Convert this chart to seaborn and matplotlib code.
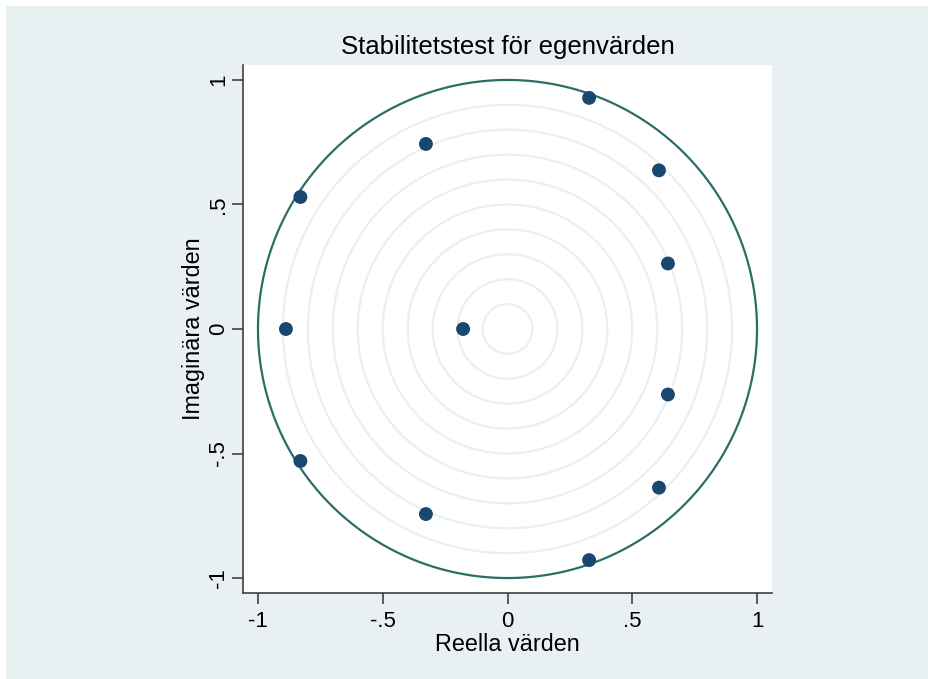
import numpy as np
import pandas as pd
import matplotlib
matplotlib.use("Agg")
import matplotlib.pyplot as plt
import seaborn as sns
from matplotlib.patches import Rectangle

# eigenvalues
real_part = [0.327, 0.327, -0.327, -0.327, 0.607, 0.607,
             -0.830, -0.830, 0.643, 0.643, -0.888, -0.178]
imag_part = [0.928, -0.928, 0.743, -0.743, 0.637, -0.637,
             0.530, -0.530, 0.263, -0.263, 0.0, 0.0]
grid_radii = [0.1, 0.2, 0.3, 0.4, 0.5, 0.6, 0.7, 0.8, 0.9]
tick_values = [-1, -0.5, 0, 0.5, 1]
tick_labels = ["-1", "-.5", "0", ".5", "1"]

bg_color = "#e8f0f2"
ring_color = "#e7f0f2"
unit_color = "#2b6e68"
point_color = "#1a476f"

sns.set_theme(style="white")
plt.rcParams["font.family"] = ["Liberation Sans", "DejaVu Sans"]

df = pd.DataFrame({"real": real_part, "imag": imag_part})

fig = plt.figure(figsize=(9.29, 6.79), dpi=100)
fig.patch.set_facecolor("white")
fig.patches.append(Rectangle((6 / 929, -0.01), 1.02, 1.01 - 6 / 679, transform=fig.transFigure,
                             facecolor=bg_color, edgecolor="none", zorder=-1))

ax = fig.add_axes([243 / 929, 1 - 593 / 679, 529 / 929, 528 / 679])
ax.set_facecolor("white")

theta = np.linspace(0, 2 * np.pi, 400)
for r in grid_radii:
    ax.plot(r * np.cos(theta), r * np.sin(theta), color=ring_color, lw=1.6, zorder=1)
ax.plot(np.cos(theta), np.sin(theta), color=unit_color, lw=1.6, zorder=2)

sns.scatterplot(data=df, x="real", y="imag", ax=ax, color=point_color,
                s=100, edgecolor="none", zorder=3)

ax.set_xlim(-1.06, 1.06)
ax.set_ylim(-1.06, 1.06)
ax.set_xticks(tick_values)
ax.set_xticklabels(tick_labels)
ax.set_yticks(tick_values)
ax.set_yticklabels(tick_labels, rotation=90, va="center")

for side in ["top", "right"]:
    ax.spines[side].set_visible(False)
for side in ["left", "bottom"]:
    ax.spines[side].set_visible(True)
    ax.spines[side].set_color("#404040")
    ax.spines[side].set_linewidth(1.2)

ax.tick_params(axis="both", direction="out", length=8, width=1.2, color="#404040",
               labelsize=16, labelcolor="black", left=True, bottom=True)
ax.tick_params(axis="y", pad=2)
ax.tick_params(axis="x", pad=5)

ax.set_xlabel("Reella värden", fontsize=16.8, color="black", labelpad=1)
ax.set_ylabel("Imaginära värden", fontsize=16.8, color="black", labelpad=2)
ax.set_title("Stabilitetstest för egenvärden", fontsize=18.5, color="black", pad=8)

fig.savefig("out.png", dpi=100)
